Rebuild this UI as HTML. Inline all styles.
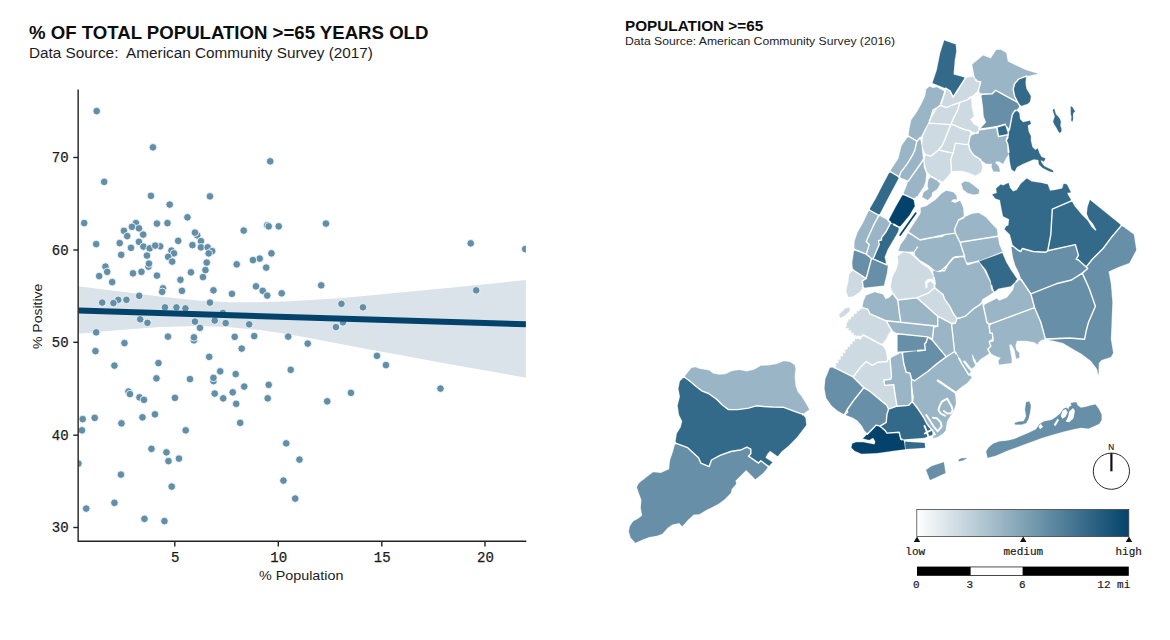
<!DOCTYPE html>
<html><head><meta charset="utf-8"><title>Population >=65</title>
<style>
html,body{margin:0;padding:0;background:#fff;}
body{width:1170px;height:640px;position:relative;overflow:hidden;font-family:"Liberation Sans",sans-serif;color:#111;}
.abs{position:absolute;white-space:nowrap;line-height:1;}
.tk{position:absolute;font-family:"Liberation Mono",monospace;font-size:14px;line-height:16px;color:#1a1a1a;white-space:nowrap;-webkit-text-stroke:0.25px #1a1a1a;}
svg{position:absolute;left:0;top:0;}
#t1{left:29.3px;top:24px;font-size:18.2px;font-weight:bold;color:#0d0d0d;transform-origin:0 0;transform:scaleX(1.023);}
#s1{left:29.3px;top:46.05px;font-size:14px;color:#1c1c1c;transform-origin:0 0;transform:scaleX(1.094);}
#t2{left:624.9px;top:18.75px;font-size:14px;font-weight:bold;color:#0d0d0d;transform-origin:0 0;transform:scaleX(1.092);}
#s2{left:624.9px;top:36.16px;font-size:10.8px;color:#1c1c1c;transform-origin:0 0;transform:scaleX(1.128);}
#xl{left:259.2px;top:569.4px;font-size:13.6px;color:#1c1c1c;transform-origin:0 0;transform:scaleX(1.054);}
#yl{left:31px;top:349.2px;font-size:13.6px;color:#1c1c1c;transform-origin:0 0;transform:rotate(-90deg) scaleX(1.03);}
.lg{position:absolute;font-family:"Liberation Mono",monospace;font-size:11px;line-height:12px;color:#1a1a1a;white-space:nowrap;-webkit-text-stroke:0.2px #1a1a1a;}
</style></head><body>
<svg width="1170" height="640" viewBox="0 0 1170 640">
<defs><clipPath id="pc"><rect x="78.3" y="88" width="447.6" height="453.3"/></clipPath><linearGradient id="lg" x1="0" x2="1" y1="0" y2="0"><stop offset="0" stop-color="#ffffff"/><stop offset="0.5" stop-color="#81a3b6"/><stop offset="1" stop-color="#03436b"/></linearGradient></defs>
<g clip-path="url(#pc)">
<polygon fill="#dae3e9" points="78.3,286.3 120.0,291.5 160.0,296.5 200.0,300.8 230.0,302.3 260.0,302.2 290.0,301.3 340.0,298.3 400.0,292.5 440.0,288.8 480.0,284.7 526.0,280.0 526.0,377.7 480.0,369.5 440.0,362.5 400.0,355.0 360.0,347.7 320.0,340.0 290.0,334.5 260.0,330.0 230.0,327.2 200.0,326.0 160.0,327.0 120.0,330.0 78.3,333.8"/>
<circle cx="96.70" cy="111.10" r="3.8" fill="#628fa8" stroke="#fff" stroke-width="0.8"/>
<circle cx="152.95" cy="147.35" r="3.8" fill="#628fa8" stroke="#fff" stroke-width="0.8"/>
<circle cx="270.20" cy="161.35" r="3.8" fill="#628fa8" stroke="#fff" stroke-width="0.8"/>
<circle cx="104.20" cy="181.85" r="3.8" fill="#628fa8" stroke="#fff" stroke-width="0.8"/>
<circle cx="150.95" cy="195.85" r="3.8" fill="#628fa8" stroke="#fff" stroke-width="0.8"/>
<circle cx="209.95" cy="196.35" r="3.8" fill="#628fa8" stroke="#fff" stroke-width="0.8"/>
<circle cx="169.70" cy="204.60" r="3.8" fill="#628fa8" stroke="#fff" stroke-width="0.8"/>
<circle cx="187.45" cy="217.35" r="3.8" fill="#628fa8" stroke="#fff" stroke-width="0.8"/>
<circle cx="84.20" cy="223.10" r="3.8" fill="#628fa8" stroke="#fff" stroke-width="0.8"/>
<circle cx="135.95" cy="223.10" r="3.8" fill="#628fa8" stroke="#fff" stroke-width="0.8"/>
<circle cx="156.95" cy="223.60" r="3.8" fill="#628fa8" stroke="#fff" stroke-width="0.8"/>
<circle cx="167.45" cy="223.10" r="3.8" fill="#628fa8" stroke="#fff" stroke-width="0.8"/>
<circle cx="131.95" cy="226.85" r="3.8" fill="#628fa8" stroke="#fff" stroke-width="0.8"/>
<circle cx="138.95" cy="228.35" r="3.8" fill="#628fa8" stroke="#fff" stroke-width="0.8"/>
<circle cx="267.20" cy="225.35" r="3.8" fill="#628fa8" stroke="#fff" stroke-width="0.8"/>
<circle cx="268.70" cy="226.35" r="3.8" fill="#628fa8" stroke="#fff" stroke-width="0.8"/>
<circle cx="278.70" cy="226.35" r="3.8" fill="#628fa8" stroke="#fff" stroke-width="0.8"/>
<circle cx="243.70" cy="230.60" r="3.8" fill="#628fa8" stroke="#fff" stroke-width="0.8"/>
<circle cx="123.95" cy="230.85" r="3.8" fill="#628fa8" stroke="#fff" stroke-width="0.8"/>
<circle cx="197.20" cy="235.35" r="3.8" fill="#628fa8" stroke="#fff" stroke-width="0.8"/>
<circle cx="194.95" cy="232.60" r="3.8" fill="#628fa8" stroke="#fff" stroke-width="0.8"/>
<circle cx="127.20" cy="236.10" r="3.8" fill="#628fa8" stroke="#fff" stroke-width="0.8"/>
<circle cx="143.20" cy="234.60" r="3.8" fill="#628fa8" stroke="#fff" stroke-width="0.8"/>
<circle cx="178.20" cy="240.85" r="3.8" fill="#628fa8" stroke="#fff" stroke-width="0.8"/>
<circle cx="200.95" cy="241.10" r="3.8" fill="#628fa8" stroke="#fff" stroke-width="0.8"/>
<circle cx="138.95" cy="241.85" r="3.8" fill="#628fa8" stroke="#fff" stroke-width="0.8"/>
<circle cx="119.70" cy="243.10" r="3.8" fill="#628fa8" stroke="#fff" stroke-width="0.8"/>
<circle cx="96.20" cy="244.10" r="3.8" fill="#628fa8" stroke="#fff" stroke-width="0.8"/>
<circle cx="192.45" cy="245.10" r="3.8" fill="#628fa8" stroke="#fff" stroke-width="0.8"/>
<circle cx="160.20" cy="246.35" r="3.8" fill="#628fa8" stroke="#fff" stroke-width="0.8"/>
<circle cx="130.95" cy="247.85" r="3.8" fill="#628fa8" stroke="#fff" stroke-width="0.8"/>
<circle cx="143.45" cy="246.60" r="3.8" fill="#628fa8" stroke="#fff" stroke-width="0.8"/>
<circle cx="149.70" cy="248.35" r="3.8" fill="#628fa8" stroke="#fff" stroke-width="0.8"/>
<circle cx="155.20" cy="245.60" r="3.8" fill="#628fa8" stroke="#fff" stroke-width="0.8"/>
<circle cx="200.95" cy="247.35" r="3.8" fill="#628fa8" stroke="#fff" stroke-width="0.8"/>
<circle cx="207.70" cy="247.35" r="3.8" fill="#628fa8" stroke="#fff" stroke-width="0.8"/>
<circle cx="212.20" cy="251.10" r="3.8" fill="#628fa8" stroke="#fff" stroke-width="0.8"/>
<circle cx="171.45" cy="250.60" r="3.8" fill="#628fa8" stroke="#fff" stroke-width="0.8"/>
<circle cx="173.95" cy="253.35" r="3.8" fill="#628fa8" stroke="#fff" stroke-width="0.8"/>
<circle cx="208.70" cy="253.35" r="3.8" fill="#628fa8" stroke="#fff" stroke-width="0.8"/>
<circle cx="121.20" cy="254.85" r="3.8" fill="#628fa8" stroke="#fff" stroke-width="0.8"/>
<circle cx="146.95" cy="255.60" r="3.8" fill="#628fa8" stroke="#fff" stroke-width="0.8"/>
<circle cx="168.20" cy="256.85" r="3.8" fill="#628fa8" stroke="#fff" stroke-width="0.8"/>
<circle cx="271.45" cy="253.35" r="3.8" fill="#628fa8" stroke="#fff" stroke-width="0.8"/>
<circle cx="259.70" cy="258.60" r="3.8" fill="#628fa8" stroke="#fff" stroke-width="0.8"/>
<circle cx="252.95" cy="260.10" r="3.8" fill="#628fa8" stroke="#fff" stroke-width="0.8"/>
<circle cx="172.20" cy="261.60" r="3.8" fill="#628fa8" stroke="#fff" stroke-width="0.8"/>
<circle cx="206.70" cy="262.60" r="3.8" fill="#628fa8" stroke="#fff" stroke-width="0.8"/>
<circle cx="148.45" cy="266.60" r="3.8" fill="#628fa8" stroke="#fff" stroke-width="0.8"/>
<circle cx="148.95" cy="263.60" r="3.8" fill="#628fa8" stroke="#fff" stroke-width="0.8"/>
<circle cx="236.70" cy="264.35" r="3.8" fill="#628fa8" stroke="#fff" stroke-width="0.8"/>
<circle cx="266.20" cy="267.60" r="3.8" fill="#628fa8" stroke="#fff" stroke-width="0.8"/>
<circle cx="105.45" cy="266.60" r="3.8" fill="#628fa8" stroke="#fff" stroke-width="0.8"/>
<circle cx="205.45" cy="270.10" r="3.8" fill="#628fa8" stroke="#fff" stroke-width="0.8"/>
<circle cx="107.20" cy="271.85" r="3.8" fill="#628fa8" stroke="#fff" stroke-width="0.8"/>
<circle cx="132.95" cy="273.35" r="3.8" fill="#628fa8" stroke="#fff" stroke-width="0.8"/>
<circle cx="141.45" cy="271.85" r="3.8" fill="#628fa8" stroke="#fff" stroke-width="0.8"/>
<circle cx="190.95" cy="272.35" r="3.8" fill="#628fa8" stroke="#fff" stroke-width="0.8"/>
<circle cx="99.20" cy="276.10" r="3.8" fill="#628fa8" stroke="#fff" stroke-width="0.8"/>
<circle cx="156.95" cy="275.60" r="3.8" fill="#628fa8" stroke="#fff" stroke-width="0.8"/>
<circle cx="202.95" cy="277.10" r="3.8" fill="#628fa8" stroke="#fff" stroke-width="0.8"/>
<circle cx="180.45" cy="279.85" r="3.8" fill="#628fa8" stroke="#fff" stroke-width="0.8"/>
<circle cx="112.20" cy="282.10" r="3.8" fill="#628fa8" stroke="#fff" stroke-width="0.8"/>
<circle cx="255.95" cy="286.35" r="3.8" fill="#628fa8" stroke="#fff" stroke-width="0.8"/>
<circle cx="162.95" cy="288.35" r="3.8" fill="#628fa8" stroke="#fff" stroke-width="0.8"/>
<circle cx="162.20" cy="291.85" r="3.8" fill="#628fa8" stroke="#fff" stroke-width="0.8"/>
<circle cx="181.95" cy="290.85" r="3.8" fill="#628fa8" stroke="#fff" stroke-width="0.8"/>
<circle cx="213.45" cy="290.35" r="3.8" fill="#628fa8" stroke="#fff" stroke-width="0.8"/>
<circle cx="262.70" cy="290.85" r="3.8" fill="#628fa8" stroke="#fff" stroke-width="0.8"/>
<circle cx="231.95" cy="293.85" r="3.8" fill="#628fa8" stroke="#fff" stroke-width="0.8"/>
<circle cx="281.70" cy="293.35" r="3.8" fill="#628fa8" stroke="#fff" stroke-width="0.8"/>
<circle cx="267.20" cy="295.60" r="3.8" fill="#628fa8" stroke="#fff" stroke-width="0.8"/>
<circle cx="139.20" cy="295.85" r="3.8" fill="#628fa8" stroke="#fff" stroke-width="0.8"/>
<circle cx="118.20" cy="299.85" r="3.8" fill="#628fa8" stroke="#fff" stroke-width="0.8"/>
<circle cx="126.45" cy="299.85" r="3.8" fill="#628fa8" stroke="#fff" stroke-width="0.8"/>
<circle cx="102.20" cy="302.60" r="3.8" fill="#628fa8" stroke="#fff" stroke-width="0.8"/>
<circle cx="113.45" cy="303.10" r="3.8" fill="#628fa8" stroke="#fff" stroke-width="0.8"/>
<circle cx="209.95" cy="302.60" r="3.8" fill="#628fa8" stroke="#fff" stroke-width="0.8"/>
<circle cx="164.95" cy="307.35" r="3.8" fill="#628fa8" stroke="#fff" stroke-width="0.8"/>
<circle cx="176.45" cy="307.35" r="3.8" fill="#628fa8" stroke="#fff" stroke-width="0.8"/>
<circle cx="185.45" cy="308.35" r="3.8" fill="#628fa8" stroke="#fff" stroke-width="0.8"/>
<circle cx="222.95" cy="312.85" r="3.8" fill="#628fa8" stroke="#fff" stroke-width="0.8"/>
<circle cx="140.20" cy="319.35" r="3.8" fill="#628fa8" stroke="#fff" stroke-width="0.8"/>
<circle cx="147.45" cy="322.85" r="3.8" fill="#628fa8" stroke="#fff" stroke-width="0.8"/>
<circle cx="194.95" cy="321.60" r="3.8" fill="#628fa8" stroke="#fff" stroke-width="0.8"/>
<circle cx="214.70" cy="320.60" r="3.8" fill="#628fa8" stroke="#fff" stroke-width="0.8"/>
<circle cx="225.70" cy="323.10" r="3.8" fill="#628fa8" stroke="#fff" stroke-width="0.8"/>
<circle cx="249.20" cy="324.35" r="3.8" fill="#628fa8" stroke="#fff" stroke-width="0.8"/>
<circle cx="199.95" cy="327.85" r="3.8" fill="#628fa8" stroke="#fff" stroke-width="0.8"/>
<circle cx="96.20" cy="332.35" r="3.8" fill="#628fa8" stroke="#fff" stroke-width="0.8"/>
<circle cx="167.95" cy="336.60" r="3.8" fill="#628fa8" stroke="#fff" stroke-width="0.8"/>
<circle cx="193.95" cy="340.35" r="3.8" fill="#628fa8" stroke="#fff" stroke-width="0.8"/>
<circle cx="193.95" cy="337.35" r="3.8" fill="#628fa8" stroke="#fff" stroke-width="0.8"/>
<circle cx="234.70" cy="336.85" r="3.8" fill="#628fa8" stroke="#fff" stroke-width="0.8"/>
<circle cx="254.20" cy="336.10" r="3.8" fill="#628fa8" stroke="#fff" stroke-width="0.8"/>
<circle cx="288.20" cy="336.60" r="3.8" fill="#628fa8" stroke="#fff" stroke-width="0.8"/>
<circle cx="124.45" cy="343.10" r="3.8" fill="#628fa8" stroke="#fff" stroke-width="0.8"/>
<circle cx="241.70" cy="348.60" r="3.8" fill="#628fa8" stroke="#fff" stroke-width="0.8"/>
<circle cx="95.45" cy="351.10" r="3.8" fill="#628fa8" stroke="#fff" stroke-width="0.8"/>
<circle cx="209.20" cy="356.85" r="3.8" fill="#628fa8" stroke="#fff" stroke-width="0.8"/>
<circle cx="158.45" cy="363.10" r="3.8" fill="#628fa8" stroke="#fff" stroke-width="0.8"/>
<circle cx="114.45" cy="365.60" r="3.8" fill="#628fa8" stroke="#fff" stroke-width="0.8"/>
<circle cx="220.20" cy="371.35" r="3.8" fill="#628fa8" stroke="#fff" stroke-width="0.8"/>
<circle cx="290.70" cy="369.85" r="3.8" fill="#628fa8" stroke="#fff" stroke-width="0.8"/>
<circle cx="235.70" cy="374.10" r="3.8" fill="#628fa8" stroke="#fff" stroke-width="0.8"/>
<circle cx="156.45" cy="378.35" r="3.8" fill="#628fa8" stroke="#fff" stroke-width="0.8"/>
<circle cx="189.95" cy="379.10" r="3.8" fill="#628fa8" stroke="#fff" stroke-width="0.8"/>
<circle cx="213.45" cy="381.10" r="3.8" fill="#628fa8" stroke="#fff" stroke-width="0.8"/>
<circle cx="213.45" cy="377.85" r="3.8" fill="#628fa8" stroke="#fff" stroke-width="0.8"/>
<circle cx="244.20" cy="386.60" r="3.8" fill="#628fa8" stroke="#fff" stroke-width="0.8"/>
<circle cx="268.70" cy="384.85" r="3.8" fill="#628fa8" stroke="#fff" stroke-width="0.8"/>
<circle cx="128.45" cy="391.60" r="3.8" fill="#628fa8" stroke="#fff" stroke-width="0.8"/>
<circle cx="129.95" cy="394.10" r="3.8" fill="#628fa8" stroke="#fff" stroke-width="0.8"/>
<circle cx="232.70" cy="392.35" r="3.8" fill="#628fa8" stroke="#fff" stroke-width="0.8"/>
<circle cx="214.70" cy="393.60" r="3.8" fill="#628fa8" stroke="#fff" stroke-width="0.8"/>
<circle cx="139.45" cy="397.35" r="3.8" fill="#628fa8" stroke="#fff" stroke-width="0.8"/>
<circle cx="143.95" cy="399.85" r="3.8" fill="#628fa8" stroke="#fff" stroke-width="0.8"/>
<circle cx="174.95" cy="397.85" r="3.8" fill="#628fa8" stroke="#fff" stroke-width="0.8"/>
<circle cx="223.20" cy="398.35" r="3.8" fill="#628fa8" stroke="#fff" stroke-width="0.8"/>
<circle cx="267.70" cy="398.35" r="3.8" fill="#628fa8" stroke="#fff" stroke-width="0.8"/>
<circle cx="236.20" cy="403.85" r="3.8" fill="#628fa8" stroke="#fff" stroke-width="0.8"/>
<circle cx="154.95" cy="414.35" r="3.8" fill="#628fa8" stroke="#fff" stroke-width="0.8"/>
<circle cx="142.45" cy="417.35" r="3.8" fill="#628fa8" stroke="#fff" stroke-width="0.8"/>
<circle cx="82.70" cy="419.10" r="3.8" fill="#628fa8" stroke="#fff" stroke-width="0.8"/>
<circle cx="94.70" cy="417.85" r="3.8" fill="#628fa8" stroke="#fff" stroke-width="0.8"/>
<circle cx="121.45" cy="423.35" r="3.8" fill="#628fa8" stroke="#fff" stroke-width="0.8"/>
<circle cx="240.20" cy="422.85" r="3.8" fill="#628fa8" stroke="#fff" stroke-width="0.8"/>
<circle cx="81.95" cy="430.35" r="3.8" fill="#628fa8" stroke="#fff" stroke-width="0.8"/>
<circle cx="185.70" cy="430.35" r="3.8" fill="#628fa8" stroke="#fff" stroke-width="0.8"/>
<circle cx="286.20" cy="443.35" r="3.8" fill="#628fa8" stroke="#fff" stroke-width="0.8"/>
<circle cx="151.45" cy="448.85" r="3.8" fill="#628fa8" stroke="#fff" stroke-width="0.8"/>
<circle cx="166.45" cy="452.35" r="3.8" fill="#628fa8" stroke="#fff" stroke-width="0.8"/>
<circle cx="168.45" cy="461.10" r="3.8" fill="#628fa8" stroke="#fff" stroke-width="0.8"/>
<circle cx="178.95" cy="458.60" r="3.8" fill="#628fa8" stroke="#fff" stroke-width="0.8"/>
<circle cx="78.45" cy="463.60" r="3.8" fill="#628fa8" stroke="#fff" stroke-width="0.8"/>
<circle cx="299.45" cy="459.60" r="3.8" fill="#628fa8" stroke="#fff" stroke-width="0.8"/>
<circle cx="120.95" cy="474.60" r="3.8" fill="#628fa8" stroke="#fff" stroke-width="0.8"/>
<circle cx="283.45" cy="480.60" r="3.8" fill="#628fa8" stroke="#fff" stroke-width="0.8"/>
<circle cx="171.70" cy="486.60" r="3.8" fill="#628fa8" stroke="#fff" stroke-width="0.8"/>
<circle cx="295.20" cy="498.60" r="3.8" fill="#628fa8" stroke="#fff" stroke-width="0.8"/>
<circle cx="114.45" cy="502.85" r="3.8" fill="#628fa8" stroke="#fff" stroke-width="0.8"/>
<circle cx="86.20" cy="508.60" r="3.8" fill="#628fa8" stroke="#fff" stroke-width="0.8"/>
<circle cx="144.45" cy="518.85" r="3.8" fill="#628fa8" stroke="#fff" stroke-width="0.8"/>
<circle cx="164.45" cy="521.10" r="3.8" fill="#628fa8" stroke="#fff" stroke-width="0.8"/>
<circle cx="325.95" cy="223.60" r="3.8" fill="#628fa8" stroke="#fff" stroke-width="0.8"/>
<circle cx="470.70" cy="243.35" r="3.8" fill="#628fa8" stroke="#fff" stroke-width="0.8"/>
<circle cx="525.20" cy="249.10" r="3.8" fill="#628fa8" stroke="#fff" stroke-width="0.8"/>
<circle cx="321.20" cy="285.35" r="3.8" fill="#628fa8" stroke="#fff" stroke-width="0.8"/>
<circle cx="476.20" cy="290.35" r="3.8" fill="#628fa8" stroke="#fff" stroke-width="0.8"/>
<circle cx="341.45" cy="303.85" r="3.8" fill="#628fa8" stroke="#fff" stroke-width="0.8"/>
<circle cx="362.95" cy="307.35" r="3.8" fill="#628fa8" stroke="#fff" stroke-width="0.8"/>
<circle cx="342.95" cy="322.35" r="3.8" fill="#628fa8" stroke="#fff" stroke-width="0.8"/>
<circle cx="335.95" cy="327.10" r="3.8" fill="#628fa8" stroke="#fff" stroke-width="0.8"/>
<circle cx="307.70" cy="343.60" r="3.8" fill="#628fa8" stroke="#fff" stroke-width="0.8"/>
<circle cx="376.95" cy="355.85" r="3.8" fill="#628fa8" stroke="#fff" stroke-width="0.8"/>
<circle cx="385.95" cy="365.10" r="3.8" fill="#628fa8" stroke="#fff" stroke-width="0.8"/>
<circle cx="440.45" cy="388.60" r="3.8" fill="#628fa8" stroke="#fff" stroke-width="0.8"/>
<circle cx="350.95" cy="392.85" r="3.8" fill="#628fa8" stroke="#fff" stroke-width="0.8"/>
<circle cx="327.20" cy="401.35" r="3.8" fill="#628fa8" stroke="#fff" stroke-width="0.8"/>
<line x1="78.3" y1="310.5" x2="526" y2="324.3" stroke="#03436b" stroke-width="6"/>
</g>
<g stroke="#222" stroke-width="1.4" fill="none">
<path d="M78.15,89.4 V541.3 H526.3"/>
<path d="M73.3,157.5 H78.3"/>
<path d="M73.3,250.0 H78.3"/>
<path d="M73.3,342.3 H78.3"/>
<path d="M73.3,435.2 H78.3"/>
<path d="M73.3,527.5 H78.3"/>
<path d="M174.8,541.3 V546.5"/>
<path d="M278.3,541.3 V546.5"/>
<path d="M381.8,541.3 V546.5"/>
<path d="M485.0,541.3 V546.5"/>
</g>
<g id="map" stroke-linejoin="round">
<path d="M944.3,40.5 L955.7,44.6 L956.2,51.5 L954.6,60.8 L953.5,74.6 L965.5,77.8 L953.1,97.1 L950.0,90.8 L946.2,88.5 L932.6,83.1 L936.9,70.0 L940.3,53.1 Z" fill="#336989" stroke="#336989" stroke-width="0.25"/>
<path d="M972.3,64.6 L983.1,55.4 L990.8,58.5 L996.2,50.0 L1000.8,49.7 L1006.2,53.1 L1007.7,61.5 L1026.2,70.3 L1037.7,73.8 L1026.2,76.2 L1018.5,79.2 L1014.6,83.8 L1013.1,89.2 L1014.6,96.2 L1017.7,102.3 L995.7,90.3 L992.3,93.8 L981.4,94.3 L978.3,90.5 L979.8,85.8 L980.6,81.8 L976.8,81.1 L974.5,76.2 Z" fill="#9ab5c5" stroke="#9ab5c5" stroke-width="0.25"/>
<path d="M1026.2,76.2 L1025.4,82.3 L1026.2,88.5 L1030.8,96.2 L1030.0,101.5 L1027.7,103.8 L1020.0,106.2 L1017.7,102.3 L1014.6,96.2 L1013.1,89.2 L1014.6,83.8 L1018.5,79.2 Z" fill="#336989" stroke="#336989" stroke-width="0.25"/>
<path d="M981.4,94.3 L992.3,93.8 L995.7,90.3 L1017.7,102.3 L1020.0,106.2 L1016.2,110.0 L1014.6,110.8 L1012.3,114.6 L1011.1,120.8 L1009.5,129.2 L1005.4,124.2 L996.9,126.6 L980.0,129.2 L986.2,122.3 L983.8,116.2 L983.1,106.9 Z" fill="#678fa7" stroke="#678fa7" stroke-width="0.25"/>
<path d="M996.9,127.2 L1004.9,124.6 L1008.2,134.6 L998.5,136.5 Z" fill="#336989" stroke="#336989" stroke-width="0.25"/>
<path d="M970.0,136.2 L977.7,133.1 L980.0,129.7 L996.6,127.2 L998.5,136.5 L1008.2,134.6 L1006.2,140.8 L1007.7,143.8 L1008.5,154.6 L1006.2,157.7 L1003.1,163.8 L999.2,161.5 L996.2,161.2 L995.1,163.1 L998.5,165.7 L1000.0,171.5 L993.5,171.5 L991.7,167.2 L992.0,163.8 L986.2,163.8 L980.0,159.2 L973.8,155.4 L970.0,150.0 L968.5,143.8 Z" fill="#9ab5c5" stroke="#9ab5c5" stroke-width="0.25"/>
<path d="M1016.9,110.8 L1019.2,113.1 L1020.0,119.2 L1023.1,122.3 L1030.0,120.8 L1030.8,123.8 L1027.7,125.4 L1028.5,131.5 L1030.8,136.2 L1030.8,140.8 L1032.3,146.9 L1035.4,150.0 L1037.7,148.5 L1039.2,153.1 L1041.5,156.9 L1045.4,158.5 L1043.8,161.5 L1040.8,160.0 L1041.2,162.3 L1044.2,166.2 L1052.6,170.2 L1053.4,172.2 L1049.4,171.2 L1042.5,167.7 L1038.9,164.2 L1038.5,160.0 L1033.8,159.2 L1023.1,163.8 L1016.9,166.9 L1014.6,171.5 L1011.5,169.2 L1010.0,162.3 L1009.2,154.6 L1007.7,143.8 L1006.2,140.8 L1008.5,136.2 L1009.5,129.2 L1011.1,120.8 L1012.3,114.6 L1014.6,110.8 Z" fill="#336989" stroke="#336989" stroke-width="0.25"/>
<path d="M965.5,77.8 L972.8,76.8 L974.5,78.8 L976.8,81.1 L980.6,81.8 L979.8,85.8 L978.3,90.5 L972.8,95.2 L967.2,99.8 L960.0,102.3 L951.5,105.4 L946.2,107.7 L940.8,105.4 L943.1,97.7 L946.2,88.5 L950.0,90.8 L953.1,97.1 Z" fill="#cddae2" stroke="#cddae2" stroke-width="0.25"/>
<path d="M940.8,105.4 L946.2,107.7 L951.5,105.4 L960.0,102.3 L957.7,110.0 L953.1,119.2 L950.8,124.6 L929.2,123.1 L933.1,110.0 Z" fill="#cddae2" stroke="#cddae2" stroke-width="0.25"/>
<path d="M960.0,102.3 L967.2,99.8 L971.1,97.4 L971.5,106.9 L973.8,116.2 L970.0,119.2 L973.8,124.6 L978.5,126.9 L977.7,133.1 L970.0,130.8 L966.2,130.0 L961.5,128.5 L953.1,124.6 L950.8,124.6 L953.1,119.2 L957.7,110.0 Z" fill="#cddae2" stroke="#cddae2" stroke-width="0.25"/>
<path d="M929.2,123.1 L950.8,124.6 L946.2,136.2 L942.3,145.4 L938.5,150.0 L930.8,156.2 L925.4,154.6 L922.3,145.4 L923.1,136.2 Z" fill="#cddae2" stroke="#cddae2" stroke-width="0.25"/>
<path d="M950.8,124.6 L953.1,124.6 L961.5,128.5 L966.2,130.0 L970.0,130.8 L970.0,136.2 L968.5,143.8 L966.2,144.6 L955.4,143.1 L953.1,153.1 L938.5,150.0 L942.3,145.4 L946.2,136.2 Z" fill="#cddae2" stroke="#cddae2" stroke-width="0.25"/>
<path d="M925.4,154.6 L930.8,156.2 L938.5,150.0 L953.1,153.1 L950.8,159.2 L951.5,171.5 L947.7,176.2 L943.1,181.5 L933.1,177.7 L926.9,171.5 L924.6,162.3 Z" fill="#cddae2" stroke="#cddae2" stroke-width="0.25"/>
<path d="M953.1,153.1 L955.4,143.1 L966.2,144.6 L968.5,143.8 L970.0,150.0 L973.8,155.4 L980.0,159.2 L982.3,166.9 L980.8,172.3 L975.4,175.4 L967.7,172.3 L961.5,170.8 L955.4,170.8 L951.5,171.5 L950.8,159.2 Z" fill="#cddae2" stroke="#cddae2" stroke-width="0.25"/>
<path d="M961.5,183.8 L964.6,181.5 L969.2,182.3 L975.4,186.9 L979.2,190.0 L978.5,193.8 L973.8,194.6 L967.7,193.1 L963.1,189.2 Z" fill="#9ab5c5" stroke="#9ab5c5" stroke-width="0.25"/>
<path d="M1052.8,110.1 L1054.2,108.7 L1054.9,111.2 L1055.7,114.3 L1058.1,116.4 L1059.9,119.2 L1060.8,121.7 L1060.2,125.2 L1061.3,128.7 L1061.3,131.2 L1059.9,132.9 L1058.5,131.5 L1056.7,128.0 L1054.9,125.2 L1053.2,121.7 L1053.9,119.2 L1054.9,116.8 L1053.9,113.6 Z" fill="#336989" stroke="#336989" stroke-width="0.25"/>
<path d="M1070.8,106.6 L1072.2,106.9 L1073.9,109.8 L1075.0,111.3 L1073.2,112.9 L1072.9,116.1 L1073.0,118.9 L1072.2,121.7 L1071.3,120.3 L1071.6,116.8 L1070.9,114.0 Z" fill="#336989" stroke="#336989" stroke-width="0.25"/>
<path d="M926.3,89.2 L929.6,86.6 L932.8,87.9 L937.2,87.3 L940.5,89.2 L944.8,91.6 L943.0,97.5 L940.2,104.8 L935.5,109.5 L930.5,118.5 L927.0,125.0 L923.5,131.5 L920.5,137.5 L916.9,141.2 L908.5,136.2 L909.2,130.8 L911.3,120.0 L916.6,112.8 L921.2,104.5 L925.3,96.0 Z" fill="#9ab5c5" stroke="#9ab5c5" stroke-width="0.25"/>
<path d="M908.5,136.2 L916.9,141.2 L914.6,150.8 L912.3,155.4 L907.7,163.1 L900.8,172.3 L899.2,176.9 L890.0,171.5 L898.5,158.5 L901.5,146.2 L904.6,141.5 Z" fill="#9ab5c5" stroke="#9ab5c5" stroke-width="0.25"/>
<path d="M916.9,141.2 L920.0,137.7 L921.5,146.2 L923.1,160.0 L916.2,170.0 L912.3,175.4 L908.5,180.8 L899.2,176.9 L900.8,172.3 L907.7,163.1 L912.3,155.4 L914.6,150.8 Z" fill="#9ab5c5" stroke="#9ab5c5" stroke-width="0.25"/>
<path d="M923.1,160.0 L923.8,167.7 L926.2,173.8 L925.4,181.5 L923.8,186.2 L917.7,195.4 L913.5,198.8 L903.1,194.2 L905.4,189.2 L908.5,180.8 L912.3,175.4 L916.2,170.0 Z" fill="#9ab5c5" stroke="#9ab5c5" stroke-width="0.25"/>
<path d="M930.8,176.9 L933.8,177.7 L940.0,183.8 L936.9,189.2 L932.3,192.3 L931.5,196.2 L927.7,200.0 L922.3,196.9 L923.8,192.3 L928.5,189.2 L927.7,184.6 L928.5,180.0 Z" fill="#9ab5c5" stroke="#9ab5c5" stroke-width="0.25"/>
<path d="M890.0,171.5 L899.2,176.9 L887.7,198.5 L878.9,215.4 L869.2,210.0 L876.2,198.0 L883.1,184.6 Z" fill="#336989" stroke="#336989" stroke-width="0.25"/>
<path d="M903.1,194.2 L913.5,198.8 L914.6,206.2 L909.2,215.4 L899.2,227.4 L888.5,220.8 L896.2,206.2 Z" fill="#03436b" stroke="#03436b" stroke-width="0.25"/>
<path d="M869.2,210.0 L878.9,215.4 L873.1,226.2 L866.2,241.5 L869.2,244.6 L866.2,254.2 L854.3,249.5 L854.6,241.5 L857.7,232.3 L863.1,223.1 Z" fill="#9ab5c5" stroke="#9ab5c5" stroke-width="0.25"/>
<path d="M878.9,215.4 L888.5,220.8 L890.5,223.1 L886.2,231.5 L881.5,237.7 L881.5,240.0 L878.5,240.8 L879.2,244.6 L876.2,251.5 L873.1,258.8 L871.5,258.5 L866.2,254.2 L869.2,244.6 L866.2,241.5 L873.1,226.2 Z" fill="#9ab5c5" stroke="#9ab5c5" stroke-width="0.25"/>
<path d="M890.5,223.1 L899.2,227.4 L897.7,232.3 L892.3,241.5 L887.7,249.2 L884.6,256.9 L886.2,264.6 L873.1,258.8 L876.2,251.5 L879.2,244.6 L878.5,240.8 L881.5,240.0 L881.5,237.7 L886.2,231.5 Z" fill="#336989" stroke="#336989" stroke-width="0.25"/>
<path d="M854.3,249.5 L866.2,254.2 L871.5,258.5 L866.2,278.5 L853.1,270.0 L852.3,263.1 Z" fill="#678fa7" stroke="#678fa7" stroke-width="0.25"/>
<path d="M871.5,258.5 L873.1,258.8 L886.2,264.6 L887.7,265.4 L886.9,273.1 L883.8,285.4 L863.1,287.7 L862.3,280.8 L866.2,278.5 Z" fill="#678fa7" stroke="#678fa7" stroke-width="0.25"/>
<path d="M853.1,270.0 L866.2,278.5 L862.3,280.8 L863.1,287.7 L859.2,292.3 L853.1,296.2 L848.5,296.9 L846.2,291.5 L848.5,280.8 L849.2,274.6 Z" fill="#cddae2" stroke="#cddae2" stroke-width="0.25"/>
<path d="M839.2,314.6 L845.4,308.5 L849.2,307.7 L850.0,310.8 L843.8,316.2 L840.0,317.7 Z" fill="#cddae2" stroke="#cddae2" stroke-width="0.25"/>
<path d="M920.8,207.7 L926.2,206.2 L935.4,200.0 L941.5,193.8 L946.2,190.8 L953.1,192.3 L956.2,195.4 L956.9,199.2 L953.1,199.2 L950.8,201.5 L955.4,203.1 L960.0,200.8 L963.1,207.7 L963.8,216.9 L958.5,220.0 L954.6,229.2 L955.4,233.1 L944.6,234.6 L942.3,236.2 L933.8,237.2 L923.1,239.2 L920.0,240.0 L908.5,232.3 L912.3,226.2 L916.9,219.2 L920.8,213.1 Z" fill="#9ab5c5" stroke="#9ab5c5" stroke-width="0.25"/>
<path d="M908.5,232.3 L920.0,240.0 L933.8,237.2 L944.6,234.6 L955.4,233.1 L960.0,242.3 L964.6,256.2 L954.6,256.9 L947.7,264.6 L944.6,270.8 L935.4,270.8 L929.2,265.4 L920.0,260.0 L915.4,255.4 L914.6,252.3 L918.5,246.9 L916.9,246.2 L913.8,251.5 L907.7,251.5 L898.5,250.8 L900.8,244.6 L905.4,238.5 Z" fill="#9ab5c5" stroke="#9ab5c5" stroke-width="0.25"/>
<path d="M954.6,229.2 L958.5,220.0 L972.3,213.8 L978.5,213.1 L985.4,216.9 L992.3,224.6 L996.9,229.2 L997.7,236.2 L960.0,242.3 L955.4,233.1 Z" fill="#9ab5c5" stroke="#9ab5c5" stroke-width="0.25"/>
<path d="M960.0,242.3 L997.7,236.2 L999.2,244.6 L1002.3,251.5 L979.2,260.8 L967.7,264.6 L964.6,256.2 Z" fill="#9ab5c5" stroke="#9ab5c5" stroke-width="0.25"/>
<path d="M979.2,261.5 L1002.3,253.1 L1006.2,262.3 L1010.8,270.0 L1017.7,280.0 L1013.1,283.8 L1010.8,286.2 L998.5,288.5 L994.6,291.5 L992.3,289.2 L990.8,280.8 L986.2,270.0 Z" fill="#336989" stroke="#336989" stroke-width="0.25"/>
<path d="M933.1,270.8 L939.2,272.3 L946.9,265.4 L953.1,257.7 L963.1,256.2 L966.2,263.8 L978.5,261.5 L983.8,270.0 L990.0,282.3 L993.1,292.3 L990.0,294.6 L982.3,299.2 L980.0,304.6 L973.1,309.2 L965.4,316.2 L960.8,317.7 L956.9,318.5 L953.1,313.1 L950.0,306.9 L944.6,299.2 L943.1,294.6 L934.6,287.7 L936.2,283.1 L934.6,280.0 Z" fill="#9ab5c5" stroke="#9ab5c5" stroke-width="0.25"/>
<path d="M992.3,194.6 L996.9,193.1 L996.2,188.5 L1000.8,184.6 L1003.1,185.4 L1008.5,183.1 L1010.0,187.7 L1013.1,191.5 L1016.9,190.0 L1020.8,183.8 L1026.9,178.5 L1031.5,181.5 L1041.5,183.1 L1047.7,184.6 L1050.0,190.8 L1055.4,190.0 L1062.3,188.5 L1063.8,183.8 L1066.9,184.6 L1070.8,192.3 L1066.9,193.1 L1071.5,200.8 L1052.3,209.2 L1050.8,234.6 L1047.7,250.8 L1045.4,252.3 L1033.1,251.5 L1022.3,248.5 L1020.8,251.5 L1017.7,250.0 L1013.1,246.2 L1010.0,234.6 L1004.6,229.2 L1006.2,226.2 L1008.5,225.4 L1009.2,219.2 L1003.1,216.2 L1001.5,208.5 L1000.0,200.0 L995.4,198.5 Z" fill="#336989" stroke="#336989" stroke-width="0.25"/>
<path d="M1071.5,200.8 L1074.6,206.2 L1081.5,214.6 L1087.7,220.8 L1091.5,226.9 L1095.4,230.8 L1096.5,230.0 L1093.1,223.8 L1089.2,219.2 L1086.9,213.8 L1087.7,206.9 L1090.0,200.0 L1121.5,225.4 L1112.3,236.2 L1103.1,248.5 L1092.3,259.2 L1086.2,266.9 L1078.5,260.0 L1076.2,259.2 L1078.5,255.4 L1075.4,244.6 L1047.7,250.8 L1050.8,234.6 L1052.3,209.2 Z" fill="#336989" stroke="#336989" stroke-width="0.25"/>
<path d="M1121.5,225.4 L1124.6,227.7 L1133.8,234.6 L1136.2,250.0 L1129.2,263.1 L1118.5,266.9 L1108.5,271.5 L1110.8,283.8 L1112.3,302.3 L1111.5,322.3 L1110.8,339.2 L1113.1,353.1 L1110.8,356.9 L1101.5,360.0 L1098.8,363.1 L1098.3,374.6 L1097.2,369.2 L1096.2,367.7 L1090.8,360.8 L1081.5,353.8 L1072.3,348.5 L1063.1,343.1 L1053.8,340.8 L1045.4,339.2 L1069.2,338.0 L1084.6,339.2 L1086.2,330.8 L1088.5,322.3 L1095.4,306.2 L1089.2,288.5 L1082.3,273.1 L1087.7,268.5 L1086.2,266.9 L1092.3,259.2 L1103.1,248.5 L1112.3,236.2 Z" fill="#678fa7" stroke="#678fa7" stroke-width="0.25"/>
<path d="M1011.5,246.9 L1013.1,246.2 L1017.7,250.0 L1020.8,251.5 L1022.3,248.5 L1033.1,251.5 L1045.4,252.3 L1047.7,250.8 L1075.4,244.6 L1078.5,255.4 L1076.2,259.2 L1078.5,260.0 L1086.2,266.9 L1087.7,268.5 L1082.3,273.1 L1071.5,280.0 L1056.2,283.8 L1030.8,293.8 L1029.2,291.5 L1021.5,280.0 L1019.2,273.1 L1015.4,265.4 L1013.1,257.7 Z" fill="#678fa7" stroke="#678fa7" stroke-width="0.25"/>
<path d="M1030.8,293.8 L1056.2,283.8 L1071.5,280.0 L1082.3,273.1 L1089.2,288.5 L1095.4,306.2 L1088.5,322.3 L1086.2,330.8 L1084.6,339.2 L1069.2,338.0 L1045.4,338.9 L1040.8,322.3 L1034.6,307.7 L1032.3,299.2 Z" fill="#678fa7" stroke="#678fa7" stroke-width="0.25"/>
<path d="M983.1,305.4 L996.9,298.5 L999.2,300.8 L1006.9,297.7 L1013.1,290.0 L1014.6,284.6 L1017.7,280.0 L1021.5,280.0 L1029.2,291.5 L1030.8,293.8 L1032.3,299.2 L1034.6,307.7 L990.8,323.8 L986.9,322.3 L984.6,311.5 Z" fill="#9ab5c5" stroke="#9ab5c5" stroke-width="0.25"/>
<path d="M990.8,323.8 L1034.6,307.7 L1040.8,322.3 L1045.4,338.9 L1041.5,340.0 L1038.5,342.3 L1037.7,344.6 L1034.6,342.3 L1026.2,340.8 L1016.9,340.8 L1015.4,345.4 L1016.2,350.0 L1019.2,353.1 L1019.2,357.7 L1016.2,358.5 L1014.6,350.0 L1011.5,344.6 L1009.2,344.6 L1010.0,350.0 L1011.5,358.5 L1011.5,363.1 L999.2,364.6 L998.5,360.8 L1000.8,357.7 L996.2,356.2 L990.0,353.1 L987.7,349.2 L990.8,346.2 L989.2,341.5 L993.1,339.2 L992.3,333.1 L990.0,333.1 L989.2,326.9 Z" fill="#9ab5c5" stroke="#9ab5c5" stroke-width="0.25"/>
<path d="M1014.6,423.1 L1018.5,421.8 L1023.8,421.2 L1026.2,416.2 L1025.1,409.2 L1026.2,402.3 L1029.2,401.5 L1030.8,405.4 L1030.0,412.3 L1028.5,418.5 L1026.2,423.1 L1021.5,424.6 L1015.4,424.6 Z" fill="#678fa7" stroke="#678fa7" stroke-width="0.25"/>
<path d="M986.2,451.5 L988.5,447.7 L993.1,443.8 L999.2,441.5 L1006.9,440.8 L1013.8,439.2 L1020.8,436.2 L1028.5,433.1 L1036.2,429.2 L1039.2,424.6 L1043.8,421.5 L1051.5,420.0 L1056.2,416.9 L1060.8,413.1 L1063.8,408.5 L1066.9,407.7 L1068.5,410.0 L1069.2,406.9 L1071.5,405.4 L1070.8,403.1 L1076.2,402.3 L1077.7,405.4 L1080.8,407.7 L1085.4,406.9 L1090.8,405.4 L1095.4,404.6 L1098.5,408.5 L1101.5,414.6 L1101.5,420.0 L1099.2,423.8 L1093.8,426.2 L1088.5,428.5 L1080.8,427.7 L1073.1,429.2 L1063.8,431.5 L1053.1,434.6 L1042.3,437.7 L1030.0,442.3 L1019.2,446.2 L1006.9,450.8 L996.2,455.4 L987.7,457.7 Z" fill="#678fa7" stroke="#678fa7" stroke-width="0.25"/>
<path d="M958.5,460.0 L961.5,458.2 L966.9,458.2 L963.1,460.3 L958.9,461.2 Z" fill="#678fa7" stroke="#678fa7" stroke-width="0.25"/>
<path d="M926.2,470.0 L931.5,466.2 L943.8,462.3 L945.4,473.1 L930.0,480.0 Z" fill="#678fa7" stroke="#678fa7" stroke-width="0.25"/>
<path d="M897.7,256.2 L903.8,252.3 L910.0,253.8 L913.8,256.9 L917.7,260.8 L922.3,264.6 L928.5,268.5 L931.5,273.1 L934.6,280.0 L931.5,278.6 L927.8,278.9 L924.8,282.0 L925.7,288.5 L927.5,287.8 L927.5,283.2 L930.6,281.5 L933.4,284.6 L934.6,287.7 L928.5,293.1 L916.9,297.7 L897.7,300.0 L893.1,293.1 L890.8,286.9 L892.3,277.7 L896.9,268.5 L898.5,262.3 Z" fill="#cddae2" stroke="#cddae2" stroke-width="0.25"/>
<path d="M866.2,295.4 L874.6,292.3 L883.1,294.6 L885.4,299.2 L889.2,297.7 L893.1,293.8 L897.7,300.0 L899.2,311.5 L900.8,322.3 L886.2,320.8 L880.8,318.5 L870.0,313.8 L867.7,309.2 L862.3,307.7 L863.8,300.8 Z" fill="#9ab5c5" stroke="#9ab5c5" stroke-width="0.25"/>
<path d="M897.7,300.0 L916.9,297.7 L937.7,316.2 L937.7,326.2 L900.8,322.3 L899.2,311.5 Z" fill="#9ab5c5" stroke="#9ab5c5" stroke-width="0.25"/>
<path d="M916.9,297.7 L928.5,293.1 L934.6,287.7 L943.1,294.6 L944.6,299.2 L950.0,306.9 L953.1,313.1 L956.9,318.5 L955.4,323.1 L950.8,323.1 L937.7,316.2 Z" fill="#cddae2" stroke="#cddae2" stroke-width="0.25"/>
<path d="M965.4,316.2 L973.1,309.2 L980.0,304.6 L983.1,303.8 L984.6,311.5 L986.9,322.3 L989.2,326.9 L990.0,333.1 L992.3,333.1 L993.1,340.8 L989.2,341.5 L990.8,346.2 L987.7,349.2 L990.0,353.1 L980.0,359.2 L982.3,356.9 L976.9,363.1 L973.1,355.4 L971.5,353.8 L973.1,360.8 L975.4,365.4 L971.5,368.5 L965.4,360.8 L962.3,360.8 L966.9,366.9 L970.8,371.5 L968.5,374.6 L961.5,363.1 L957.7,354.6 L954.6,351.5 L951.5,323.8 L955.4,323.1 L956.9,318.5 L960.8,317.7 Z" fill="#9ab5c5" stroke="#9ab5c5" stroke-width="0.25"/>
<path d="M937.7,316.2 L950.8,323.1 L951.5,323.8 L954.6,351.5 L946.2,356.9 L932.3,340.0 L933.8,326.9 L937.7,326.2 Z" fill="#9ab5c5" stroke="#9ab5c5" stroke-width="0.25"/>
<path d="M886.2,320.8 L900.8,322.3 L937.7,326.2 L933.8,326.9 L932.3,339.2 L927.7,336.9 L897.7,333.8 L891.5,330.0 Z" fill="#9ab5c5" stroke="#9ab5c5" stroke-width="0.25"/>
<path d="M862.3,307.7 L867.7,309.2 L870.0,313.8 L880.8,318.5 L886.2,320.8 L891.5,330.0 L888.5,333.8 L885.4,340.0 L881.5,344.6 L863.1,334.6 L860.0,339.2 L859.2,338.5 L857.8,337.1 L857.0,338.0 L855.9,336.9 L856.7,336.1 L855.3,334.7 L854.5,335.6 L853.4,334.5 L854.2,333.7 L852.8,332.3 L852.0,333.2 L850.8,332.1 L851.7,331.3 L850.3,329.9 L849.4,330.8 L848.3,329.7 L849.1,328.9 L847.8,327.5 L846.9,328.4 L845.8,327.3 L846.6,326.5 L846.9,323.1 L847.2,322.6 L848.8,321.1 L848.1,320.4 L849.3,319.1 L850.0,319.8 L851.6,318.3 L850.9,317.6 L852.1,316.4 L852.8,317.1 L854.4,315.6 L853.7,314.8 L855.0,313.6 L855.7,314.3 L857.2,312.8 L856.5,312.1 L857.8,310.8 L858.5,311.5 Z" fill="#cddae2" stroke="#cddae2" stroke-width="0.25"/>
<path d="M897.7,333.8 L927.7,336.9 L926.2,342.3 L924.6,343.8 L925.4,350.0 L897.7,351.5 Z" fill="#678fa7" stroke="#678fa7" stroke-width="0.25"/>
<path d="M927.7,336.9 L932.3,340.0 L946.2,356.9 L937.7,363.1 L927.7,371.5 L914.6,380.8 L911.5,379.2 L910.0,373.1 L906.2,372.3 L903.8,363.8 L902.3,353.1 L925.4,350.0 L924.6,343.8 L926.2,342.3 Z" fill="#678fa7" stroke="#678fa7" stroke-width="0.25"/>
<path d="M946.2,356.9 L954.6,351.5 L961.5,363.1 L968.5,374.6 L971.8,377.2 L967.4,382.7 L961.9,386.5 L956.4,390.9 L954.8,393.1 L955.3,396.9 L955.9,403.5 L954.2,408.9 L952.1,413.3 L949.9,416.6 L947.1,421.0 L946.0,426.4 L945.5,430.8 L942.2,434.1 L937.8,436.8 L933.5,437.9 L933.1,431.5 L926.9,423.8 L923.8,417.7 L917.7,408.5 L912.3,401.5 L911.5,385.4 L911.5,379.2 L914.6,380.8 L927.7,371.5 L937.7,363.1 Z" fill="#9ab5c5" stroke="#9ab5c5" stroke-width="0.25"/>
<path d="M890.0,358.5 L900.8,353.1 L902.3,353.1 L903.8,363.8 L906.2,372.3 L910.0,373.1 L911.5,379.2 L911.5,385.4 L913.1,397.7 L912.3,401.5 L908.5,405.4 L896.9,406.2 L894.6,391.5 L893.8,384.6 L884.6,385.4 L883.8,380.0 L890.8,379.2 L891.5,376.2 Z" fill="#9ab5c5" stroke="#9ab5c5" stroke-width="0.25"/>
<path d="M866.2,361.5 L872.3,365.4 L877.7,362.3 L886.9,361.5 L890.0,358.5 L891.5,376.2 L890.8,379.2 L883.8,380.0 L884.6,385.4 L893.8,384.6 L894.6,391.5 L896.9,406.2 L888.5,409.2 L886.9,405.4 L869.2,390.8 L863.8,387.7 L853.1,376.9 L860.8,366.9 Z" fill="#cddae2" stroke="#cddae2" stroke-width="0.25"/>
<path d="M863.8,335.4 L881.5,344.6 L885.4,350.0 L886.9,357.7 L886.9,361.5 L877.7,362.3 L872.3,365.4 L866.2,361.5 L860.8,366.9 L853.1,376.9 L834.6,367.7 L835.4,366.9 L836.7,365.1 L835.6,364.3 L836.6,362.8 L837.7,363.5 L839.0,361.7 L837.9,360.9 L838.9,359.4 L840.0,360.2 L841.3,358.3 L840.2,357.6 L841.2,356.0 L842.3,356.8 L843.6,354.9 L842.5,354.2 L843.5,352.7 L844.6,353.4 L845.9,351.5 L844.8,350.8 L845.8,349.3 L846.9,350.0 L846.9,350.0 L848.2,348.6 L847.3,347.7 L848.4,346.5 L849.3,347.4 L850.6,345.9 L849.7,345.1 L850.8,343.9 L851.7,344.8 L853.0,343.3 L852.1,342.5 L853.2,341.3 L854.1,342.2 L855.4,340.7 L854.5,339.8 L855.6,338.7 L856.5,339.5 L857.8,338.1 L856.9,337.2 L858.0,336.0 L858.9,336.9 Z" fill="#cddae2" stroke="#cddae2" stroke-width="0.25"/>
<path d="M830.0,367.7 L834.6,367.7 L853.1,376.9 L863.8,387.7 L854.6,399.2 L846.9,410.0 L847.7,412.3 L844.6,414.6 L837.7,410.8 L831.5,405.4 L826.2,397.7 L824.6,388.5 L825.4,379.2 L828.5,371.5 Z" fill="#678fa7" stroke="#678fa7" stroke-width="0.25"/>
<path d="M863.8,387.7 L869.2,390.8 L886.9,405.4 L888.5,409.2 L886.9,414.6 L886.2,422.3 L880.0,426.2 L876.2,425.1 L871.5,430.0 L867.7,433.8 L864.6,430.8 L862.3,426.2 L857.7,420.8 L853.1,417.7 L849.2,416.2 L844.6,414.6 L846.9,410.0 L854.6,399.2 Z" fill="#678fa7" stroke="#678fa7" stroke-width="0.25"/>
<path d="M888.5,409.2 L896.9,406.2 L908.5,405.4 L912.3,401.5 L917.7,408.5 L923.8,417.7 L926.9,423.8 L933.1,431.5 L935.4,434.6 L930.0,435.4 L924.6,437.7 L904.6,439.2 L900.8,439.2 L899.2,432.3 L886.9,433.1 L885.4,430.8 L880.0,426.2 L886.2,422.3 L886.9,414.6 Z" fill="#336989" stroke="#336989" stroke-width="0.25"/>
<path d="M905.1,441.8 L924.6,443.1 L925.1,447.7 L905.7,448.9 Z" fill="#336989" stroke="#336989" stroke-width="0.25"/>
<path d="M876.2,425.1 L880.0,426.2 L885.4,430.8 L886.9,433.1 L899.2,432.3 L900.8,439.2 L903.8,440.8 L905.1,449.2 L893.1,450.8 L877.7,453.1 L861.5,453.8 L854.6,450.8 L851.5,447.7 L852.3,443.8 L856.2,442.3 L863.1,442.3 L870.8,443.8 L874.6,444.6 L875.4,441.5 L873.1,437.7 L869.2,440.0 L863.1,438.5 L867.7,433.8 L871.5,430.0 Z" fill="#03436b" stroke="#03436b" stroke-width="0.25"/>
<path d="M684.2,377.0 L691.5,368.1 L695.4,367.3 L699.2,368.8 L703.8,369.6 L709.2,370.4 L713.1,373.5 L719.2,374.7 L725.4,374.2 L731.5,371.2 L739.2,370.1 L746.9,371.6 L754.6,369.6 L760.8,365.8 L768.5,365.5 L776.2,364.2 L783.8,361.2 L790.0,361.9 L794.6,365.0 L795.4,368.8 L794.6,376.5 L795.4,385.8 L797.7,391.9 L801.5,396.5 L805.4,402.7 L809.2,409.6 L802.3,414.2 L793.8,411.2 L783.8,407.3 L773.1,407.0 L763.8,406.5 L756.2,405.8 L748.5,408.1 L737.7,409.6 L728.5,409.6 L722.3,405.0 L716.2,398.8 L708.5,393.5 L702.3,391.2 L696.2,386.5 L690.0,381.2 L684.2,377.0 Z" fill="#9ab5c5" stroke="#9ab5c5" stroke-width="0.25"/>
<path d="M684.2,377.0 L690.0,381.2 L696.2,386.5 L702.3,391.2 L708.5,393.5 L716.2,398.8 L722.3,405.0 L728.5,409.6 L737.7,409.6 L748.5,408.1 L756.2,405.8 L763.8,406.5 L773.1,407.0 L783.8,407.3 L793.8,411.2 L802.3,414.2 L805.4,418.1 L806.2,425.0 L801.5,431.2 L796.2,438.1 L788.5,445.8 L781.5,451.5 L777.7,456.2 L770.0,450.8 L766.9,454.6 L765.4,457.7 L772.3,462.3 L768.5,466.6 L760.8,460.8 L758.5,463.1 L748.5,456.2 L750.8,453.8 L750.8,449.2 L746.9,447.2 L741.5,449.7 L730.8,451.5 L720.0,455.4 L711.5,460.0 L709.2,466.6 L700.8,463.1 L698.5,457.7 L687.7,447.7 L675.4,443.1 L676.9,433.5 L680.8,427.3 L682.3,421.2 L679.2,415.0 L677.7,405.8 L680.0,396.5 L678.5,388.8 L680.0,381.2 Z" fill="#336989" stroke="#336989" stroke-width="0.25"/>
<path d="M675.4,443.1 L687.7,447.7 L698.5,457.7 L700.8,463.1 L709.2,466.6 L711.5,460.0 L720.0,455.4 L730.8,451.5 L741.5,449.7 L746.9,447.2 L750.8,449.2 L750.8,453.8 L748.5,456.2 L758.5,463.1 L760.8,460.8 L768.5,466.6 L763.1,473.1 L755.4,479.2 L746.2,470.0 L735.4,480.8 L736.2,483.8 L731.5,489.2 L730.8,493.1 L724.6,499.2 L718.5,503.8 L712.3,506.9 L706.2,510.0 L699.2,514.2 L693.8,514.6 L687.7,520.0 L682.3,526.2 L679.2,523.1 L672.3,524.6 L667.7,527.7 L662.3,533.8 L656.9,535.7 L649.2,536.9 L641.5,540.0 L635.4,542.8 L630.8,537.7 L628.9,531.5 L630.0,526.2 L633.1,521.5 L638.5,518.5 L642.3,515.4 L640.8,507.7 L641.5,500.0 L639.2,493.8 L636.9,486.9 L639.2,483.1 L646.9,476.9 L653.1,472.3 L660.8,473.1 L669.2,469.2 L670.0,460.8 L673.1,451.5 Z" fill="#678fa7" stroke="#678fa7" stroke-width="0.25"/>
<path d="M1062.6,410.8 L1065.7,408.9 L1067.7,412.3 L1065.4,416.9 L1062.3,418.8 L1060.8,415.7 Z" fill="#fff" stroke="none"/>
<path d="M1069.2,411.5 L1073.1,408.0 L1074.9,410.8 L1073.4,418.5 L1069.2,422.3 L1065.7,421.5 L1068.0,416.9 Z" fill="#fff" stroke="none"/>
<path d="M1053.8,424.6 L1057.7,418.5 L1058.9,420.3 L1055.4,426.2 Z" fill="#fff" stroke="none"/>
<path d="M1038.5,426.2 L1040.8,423.8 L1043.1,426.9 L1040.0,429.2 Z" fill="#fff" stroke="none"/>
<path d="M964.9,77.7 L965.5,77.8 L953.1,97.1 L950.0,90.8 L946.2,88.5 L945.6,88.2 M978.7,90.9 L978.3,90.5 L979.8,85.8 L980.6,81.8 L976.8,81.1 L976.0,79.5 M1026.7,76.0 L1026.2,76.2 L1018.5,79.2 L1014.6,83.8 L1013.1,89.2 L1014.6,96.2 L1017.7,102.3 L995.7,90.3 L992.3,93.8 L981.4,94.3 L981.0,93.8 M1020.6,106.0 L1020.0,106.2 L1017.7,102.3 L1014.6,96.2 L1013.1,89.2 L1014.6,83.8 L1018.5,79.2 L1026.2,76.2 L1026.1,76.8 M996.7,126.6 L980.0,129.2 L980.1,129.1 M981.5,94.9 L981.4,94.3 L992.3,93.8 L995.7,90.3 L1017.7,102.3 L1020.0,106.2 L1019.6,106.6 M1005.3,124.2 L996.9,126.6 L996.8,126.6 M1015.8,110.2 L1014.6,110.8 L1012.3,114.6 L1011.1,120.8 L1009.5,129.2 L1009.0,128.6 M1008.0,134.0 L1008.2,134.6 L998.5,136.5 L996.9,127.2 L1004.9,124.6 L1005.0,124.9 M980.8,159.8 L980.0,159.2 L973.8,155.4 L970.0,150.0 L968.5,143.8 L970.0,136.2 L970.6,135.9 M976.8,133.4 L977.7,133.1 L978.4,132.0 M979.9,129.8 L980.0,129.7 L996.6,127.2 L998.5,136.5 L1008.2,134.6 L1007.9,135.3 M1007.4,136.9 L1006.2,140.8 L1007.7,143.8 L1008.3,152.3 M1008.9,152.3 L1007.7,143.8 L1006.2,140.8 L1008.0,137.2 M1009.4,129.8 L1009.5,129.2 L1011.1,120.8 L1012.3,114.6 L1014.6,110.8 L1016.0,110.8 M970.9,96.8 L967.2,99.8 L960.0,102.3 L951.5,105.4 L946.2,107.7 L940.8,105.4 L940.9,104.8 M941.3,103.6 L943.1,97.7 L945.2,91.2 M946.0,89.0 L946.2,88.5 L950.0,90.8 L953.1,97.1 L965.5,77.8 L966.1,77.8 M975.5,79.8 L976.8,81.1 L980.6,81.8 L979.8,85.8 L978.3,90.5 L977.9,90.9 M940.3,105.7 L940.8,105.4 L946.2,107.7 L951.5,105.4 L960.0,102.3 L957.7,110.0 L953.1,119.2 L950.8,124.6 L929.2,123.1 L929.4,122.5 M929.8,121.0 L933.1,110.0 L940.0,105.8 M970.6,130.9 L970.0,130.8 L966.2,130.0 L961.5,128.5 L953.1,124.6 L950.8,124.6 L953.1,119.2 L957.7,110.0 L960.0,102.3 L967.2,99.8 L971.1,97.4 L971.1,97.4 M977.9,131.8 L977.7,133.1 L976.8,132.8 M929.0,123.6 L929.2,123.1 L950.8,124.6 L946.2,136.2 L942.3,145.4 L938.5,150.0 L930.8,156.2 L925.4,154.6 L925.2,154.0 M970.0,135.5 L970.0,136.2 L968.5,143.8 L966.2,144.6 L955.4,143.1 L953.1,153.1 L938.5,150.0 L942.3,145.4 L946.2,136.2 L950.8,124.6 L953.1,124.6 L961.5,128.5 L966.2,130.0 L970.0,130.8 L970.0,131.4 M925.3,155.2 L925.4,154.6 L930.8,156.2 L938.5,150.0 L953.1,153.1 L950.8,159.2 L951.5,171.5 L951.2,172.0 M935.7,178.7 L933.1,177.7 L932.0,176.6 M952.1,171.4 L951.5,171.5 L950.8,159.2 L953.1,153.1 L955.4,143.1 L966.2,144.6 L968.5,143.8 L970.0,150.0 L973.8,155.4 L980.0,159.2 L980.3,160.2 M920.5,137.4 L920.5,137.5 L916.9,141.2 L908.5,136.2 L908.5,135.6 M939.6,105.4 L935.5,109.5 L930.5,118.5 L929.3,120.7 M944.5,91.4 L944.8,91.6 L943.0,97.5 L940.7,103.4 M908.1,136.6 L908.5,136.2 L916.9,141.2 L914.6,150.8 L912.3,155.4 L907.7,163.1 L900.8,172.3 L899.2,176.9 L890.0,171.5 L890.3,171.0 M899.8,177.2 L899.2,176.9 L900.8,172.3 L907.7,163.1 L912.3,155.4 L914.6,150.8 L916.9,141.2 L920.0,137.7 L920.2,138.7 M923.0,159.4 L923.1,160.0 L916.2,170.0 L912.3,175.4 L908.5,180.8 L907.9,180.5 M914.0,198.4 L913.5,198.8 L903.1,194.2 L903.3,193.6 M908.3,181.3 L908.5,180.8 L912.3,175.4 L916.2,170.0 L923.1,160.0 L923.2,160.9 M931.7,177.2 L933.8,177.7 L935.4,179.2 M879.2,214.9 L878.9,215.4 L869.2,210.0 L869.5,209.5 M889.7,172.1 L890.0,171.5 L899.2,176.9 L898.9,177.5 M890.2,221.8 L888.5,220.8 L888.7,220.2 M899.6,226.9 L899.2,227.4 L893.8,224.0 M902.8,194.7 L903.1,194.2 L913.5,198.8 L913.6,199.4 M869.0,210.5 L869.2,210.0 L878.9,215.4 L873.1,226.2 L866.2,241.5 L869.2,244.6 L866.2,254.2 L854.3,249.5 L854.3,248.9 M890.1,222.6 L890.5,223.1 L886.2,231.5 L881.5,237.7 L881.5,240.0 L878.5,240.8 L879.2,244.6 L876.2,251.5 L873.1,258.8 L871.5,258.5 L866.2,254.2 L869.2,244.6 L866.2,241.5 L873.1,226.2 L878.9,215.4 L879.4,215.7 M887.9,220.5 L888.5,220.8 L889.8,222.3 M886.0,263.9 L886.2,264.6 L873.1,258.8 L876.2,251.5 L879.2,244.6 L878.5,240.8 L881.5,240.0 L881.5,237.7 L886.2,231.5 L890.5,223.1 L891.0,223.3 M893.5,224.6 L899.2,227.4 L899.1,228.0 M854.2,250.1 L854.3,249.5 L866.2,254.2 L871.5,258.5 L866.2,278.5 L853.1,270.0 L853.0,269.4 M863.7,287.6 L863.1,287.7 L862.3,280.8 L866.2,278.5 L871.5,258.5 L873.1,258.8 L886.2,264.6 L886.7,264.9 M852.7,270.5 L853.1,270.0 L866.2,278.5 L862.3,280.8 L863.1,287.7 L862.7,288.2 M963.6,217.0 L958.5,220.0 L954.6,229.2 L955.4,233.1 L944.6,234.6 L942.3,236.2 L933.8,237.2 L923.1,239.2 L920.0,240.0 L908.5,232.3 L908.8,231.8 M908.2,232.8 L908.5,232.3 L920.0,240.0 L933.8,237.2 L944.6,234.6 L955.4,233.1 L960.0,242.3 L964.6,256.2 L964.0,256.2 M963.7,256.2 L954.6,256.9 L947.7,264.6 L944.6,270.8 L940.0,270.8 M997.6,235.6 L997.7,236.2 L960.0,242.3 L955.4,233.1 L954.6,229.2 L958.5,220.0 L963.9,217.6 M964.8,256.7 L964.6,256.2 L960.0,242.3 L997.7,236.2 L997.8,236.7 M978.6,261.0 L967.7,264.6 L967.1,263.1 M993.0,289.9 L992.3,289.2 L991.7,285.7 M1017.4,279.5 L1017.7,280.0 L1016.1,281.4 M934.9,280.5 L934.6,280.0 L934.2,277.6 M980.3,303.9 L980.0,304.6 L973.1,309.2 L965.4,316.2 L960.8,317.7 L956.9,318.5 L953.1,313.1 L950.0,306.9 L944.6,299.2 L943.1,294.6 L934.6,287.7 L934.9,286.8 M940.3,271.4 L946.9,265.4 L953.1,257.7 L963.1,256.2 L963.4,256.9 M966.7,263.7 L978.5,261.5 L978.5,261.6 M991.1,285.8 L992.4,290.2 M1071.2,200.3 L1071.5,200.8 L1052.3,209.2 L1050.8,234.6 L1047.7,250.8 L1045.4,252.3 L1033.1,251.5 L1022.3,248.5 L1020.8,251.5 L1017.7,250.0 L1013.1,246.2 L1012.9,245.6 M1121.1,225.0 L1121.5,225.4 L1112.3,236.2 L1103.1,248.5 L1092.3,259.2 L1086.2,266.9 L1078.5,260.0 L1076.2,259.2 L1078.5,255.4 L1075.4,244.6 L1047.7,250.8 L1050.8,234.6 L1052.3,209.2 L1071.5,200.8 L1071.8,201.3 M1046.7,339.5 L1045.4,339.2 L1069.2,338.0 L1084.6,339.2 L1086.2,330.8 L1088.5,322.3 L1095.4,306.2 L1089.2,288.5 L1082.3,273.1 L1087.7,268.5 L1086.2,266.9 L1092.3,259.2 L1103.1,248.5 L1112.3,236.2 L1121.5,225.4 L1122.0,225.7 M1012.5,246.4 L1013.1,246.2 L1017.7,250.0 L1020.8,251.5 L1022.3,248.5 L1033.1,251.5 L1045.4,252.3 L1047.7,250.8 L1075.4,244.6 L1078.5,255.4 L1076.2,259.2 L1078.5,260.0 L1086.2,266.9 L1087.7,268.5 L1082.3,273.1 L1071.5,280.0 L1056.2,283.8 L1030.8,293.8 L1029.2,291.5 L1021.5,280.0 L1021.3,279.4 M1030.8,293.8 L1056.2,283.8 L1071.5,280.0 L1082.3,273.1 L1089.2,288.5 L1095.4,306.2 L1088.5,322.3 L1086.2,330.8 L1084.6,339.2 L1069.2,338.0 L1045.4,338.9 L1040.8,322.3 L1034.6,307.7 L1032.3,299.2 L1030.8,293.8 M987.8,322.6 L986.9,322.3 L984.6,311.5 L983.1,305.4 L983.9,305.0 M1020.9,280.0 L1021.5,280.0 L1029.2,291.5 L1030.8,293.8 L1032.3,299.2 L1034.6,307.7 L990.8,323.8 L990.2,323.6 M1016.5,281.8 L1017.7,280.0 L1018.3,280.0 M990.5,353.3 L990.0,353.1 L987.7,349.2 L990.8,346.2 L989.2,341.5 L993.1,339.2 L992.3,333.1 L990.0,333.1 L989.2,326.9 L989.6,326.3 M990.5,324.4 L990.8,323.8 L1034.6,307.7 L1040.8,322.3 L1045.4,338.9 L1044.8,339.1 M934.3,286.8 L934.6,287.7 L928.5,293.1 L916.9,297.7 L897.7,300.0 L893.2,293.3 M933.6,277.8 L934.6,280.0 L934.0,279.7 M893.0,294.0 L893.1,293.8 L897.7,300.0 L899.2,311.5 L900.8,322.3 L886.2,320.8 L880.8,318.5 L870.0,313.8 L867.7,309.2 L862.3,307.7 L862.4,307.1 M897.7,300.0 L916.9,297.7 L937.7,316.2 L937.7,326.2 L900.8,322.3 L899.2,311.5 L897.7,300.0 M951.6,323.1 L950.8,323.1 L937.7,316.2 L916.9,297.7 L928.5,293.1 L934.6,287.7 L943.1,294.6 L944.6,299.2 L950.0,306.9 L953.1,313.1 L956.9,318.5 L955.4,323.1 L952.3,323.1 M952.1,323.7 L951.5,323.8 L954.6,351.5 L956.4,353.3 M980.7,304.4 L980.0,304.6 L973.1,309.2 L965.4,316.2 L960.8,317.7 L956.9,318.5 L955.4,323.1 L952.4,323.7 M959.4,358.3 L961.5,363.1 L968.5,374.6 L968.9,374.1 M987.3,323.1 L986.9,322.3 L984.6,311.5 L983.2,304.6 M989.5,353.4 L990.0,353.1 L987.7,349.2 L990.8,346.2 L989.2,341.5 L993.1,340.8 L992.3,333.1 L990.0,333.1 L989.2,326.9 L988.9,326.3 M937.7,316.2 L950.8,323.1 L951.5,323.8 L954.6,351.5 L946.2,356.9 L932.3,340.0 L933.8,326.9 L937.7,326.2 L937.7,316.2 M892.0,330.3 L891.5,330.0 L886.2,320.8 L900.8,322.3 L937.7,326.2 L933.8,326.9 L932.3,339.2 L927.7,336.9 L897.7,333.8 L897.2,333.5 M862.8,335.1 L860.0,339.2 L859.2,338.5 L857.8,337.1 L857.0,338.0 L856.3,337.3 M861.9,308.1 L862.3,307.7 L867.7,309.2 L870.0,313.8 L880.8,318.5 L886.2,320.8 L891.5,330.0 L891.2,330.5 M881.9,344.2 L881.5,344.6 L863.5,334.9 M897.7,334.4 L897.7,333.8 L927.7,336.9 L926.2,342.3 L924.6,343.8 L925.4,350.0 L917.6,350.4 M931.7,339.6 L932.3,340.0 L946.2,356.9 L937.7,363.1 L927.7,371.5 L914.6,380.8 L911.5,379.2 L910.0,373.1 L906.2,372.3 L903.8,363.8 L902.3,353.1 L902.9,353.0 M917.7,351.0 L925.4,350.0 L924.6,343.8 L926.2,342.3 L927.7,336.9 L931.7,339.6 M933.3,435.5 L933.1,431.5 L926.9,423.8 L923.8,417.7 L917.7,408.5 L912.3,401.5 L911.5,385.4 L911.5,379.2 L914.6,380.8 L927.7,371.5 L937.7,363.1 L946.2,356.9 L954.6,351.5 L955.9,353.7 M958.8,358.5 L961.5,363.1 L968.5,374.6 L968.9,375.0 M901.7,353.1 L902.3,353.1 L903.8,363.8 L906.2,372.3 L910.0,373.1 L911.5,379.2 L911.5,385.4 L913.1,397.7 L912.3,401.5 L908.5,405.4 L896.9,406.2 L894.6,391.5 L893.8,384.6 L884.6,385.4 L883.8,380.0 L890.8,379.2 L891.5,376.2 L890.0,358.5 L890.5,358.2 M889.4,359.0 L890.0,358.5 L891.5,376.2 L890.8,379.2 L883.8,380.0 L884.6,385.4 L893.8,384.6 L894.6,391.5 L896.9,406.2 L888.5,409.2 L886.9,405.4 L869.2,390.8 L863.8,387.7 L853.1,376.9 L860.8,366.9 L866.2,361.5 L872.3,365.4 L877.7,362.3 L886.9,361.5 L887.5,360.9 M886.9,360.7 L886.9,361.5 L877.7,362.3 L872.3,365.4 L866.2,361.5 L860.8,366.9 L853.1,376.9 L834.6,367.7 L835.1,367.2 M857.8,338.1 L856.9,337.2 L858.0,336.0 L858.9,336.9 L863.1,335.6 M863.5,335.5 L863.8,335.4 L881.5,344.6 L881.9,345.1 M834.0,367.7 L834.6,367.7 L853.1,376.9 L863.8,387.7 L854.6,399.2 L846.9,410.0 L847.7,412.3 L844.6,414.6 L844.1,414.3 M845.3,414.8 L844.6,414.6 L846.9,410.0 L854.6,399.2 L863.8,387.7 L869.2,390.8 L886.9,405.4 L888.5,409.2 L886.9,414.6 L886.2,422.3 L880.0,426.2 L876.2,425.1 L871.5,430.0 L867.7,433.8 L867.3,433.4 M902.1,439.2 L900.8,439.2 L899.2,432.3 L886.9,433.1 L885.4,430.8 L880.0,426.2 L886.2,422.3 L886.9,414.6 L888.5,409.2 L896.9,406.2 L908.5,405.4 L912.3,401.5 L917.7,408.5 L923.8,417.7 L926.9,423.8 L933.1,431.5 L935.4,434.6 L932.7,435.0 M867.3,434.3 L867.7,433.8 L871.5,430.0 L876.2,425.1 L880.0,426.2 L885.4,430.8 L886.9,433.1 L899.2,432.3 L900.8,439.2 L902.0,439.8 M802.8,413.9 L802.3,414.2 L793.8,411.2 L783.8,407.3 L773.1,407.0 L763.8,406.5 L756.2,405.8 L748.5,408.1 L737.7,409.6 L728.5,409.6 L722.3,405.0 L716.2,398.8 L708.5,393.5 L702.3,391.2 L696.2,386.5 L690.0,381.2 L684.2,377.0 L684.5,376.5 M768.9,466.2 L768.5,466.6 L760.8,460.8 L758.5,463.1 L748.5,456.2 L750.8,453.8 L750.8,449.2 L746.9,447.2 L741.5,449.7 L730.8,451.5 L720.0,455.4 L711.5,460.0 L709.2,466.6 L700.8,463.1 L698.5,457.7 L687.7,447.7 L675.4,443.1 L675.5,442.5 M683.7,377.4 L684.2,377.0 L690.0,381.2 L696.2,386.5 L702.3,391.2 L708.5,393.5 L716.2,398.8 L722.3,405.0 L728.5,409.6 L737.7,409.6 L748.5,408.1 L756.2,405.8 L763.8,406.5 L773.1,407.0 L783.8,407.3 L793.8,411.2 L802.3,414.2 L802.7,414.7 M675.2,443.7 L675.4,443.1 L687.7,447.7 L698.5,457.7 L700.8,463.1 L709.2,466.6 L711.5,460.0 L720.0,455.4 L730.8,451.5 L741.5,449.7 L746.9,447.2 L750.8,449.2 L750.8,453.8 L748.5,456.2 L758.5,463.1 L760.8,460.8 L768.5,466.6 L768.1,467.1" fill="none" stroke="#fff" stroke-width="1.4" stroke-linecap="round" stroke-linejoin="round"/>
<path d="M915.8,213.1 L900.2,235.1" fill="none" stroke="#03436b" stroke-width="1.7" stroke-linecap="round"/>
<path d="M937.8,380.5 L955.6,392.7" fill="none" stroke="#fff" stroke-width="2.2" stroke-linecap="round"/>
<path d="M946.0,399.3 L942.2,401.3 L939.8,405.6 L938.4,410.0 L940.6,413.5 L944.9,415.7" fill="none" stroke="#fff" stroke-width="1.9" stroke-linecap="round"/>
<path d="M947.1,398.5 L949.3,402.4 L951.8,406.7 L952.7,410.6 L951.0,413.3 L947.1,413.5 L943.9,411.1" fill="none" stroke="#fff" stroke-width="1.9" stroke-linecap="round"/>
<path d="M926.3,414.9 L930.2,421.0 L934.0,427.0 L937.8,431.4" fill="none" stroke="#fff" stroke-width="1.9" stroke-linecap="round"/>
<path d="M932.9,417.7 L936.7,418.2 L940.6,422.1 L941.7,426.4 L938.9,429.9" fill="none" stroke="#fff" stroke-width="1.9" stroke-linecap="round"/>
<path d="M924.5,425.9 L926.9,431.9 L928.2,436.3" fill="none" stroke="#fff" stroke-width="1.9" stroke-linecap="round"/>
<path d="M924.7,433.5 L931.8,429.7" fill="none" stroke="#fff" stroke-width="1.7" stroke-linecap="round"/>
</g>
<g id="legend">
<rect x="916.8" y="509.5" width="212" height="27" fill="url(#lg)" stroke="#3a3a3a" stroke-width="0.75"/>
<path d="M917,536.5 l-3.2,5.5 h6.4 z M1023.2,536.5 l-3.2,5.5 h6.4 z M1129,536.5 l-3.2,5.5 h6.4 z" fill="#111"/>
<rect x="917" y="566.6" width="211.8" height="9.2" fill="#000"/>
<rect x="970.6" y="567.3" width="52" height="7.8" fill="#fff"/>
<circle cx="1111.4" cy="471.2" r="18.1" fill="#fff" stroke="#111" stroke-width="0.9"/>
<path d="M1111.4,471.3 V453.2" stroke="#111" stroke-width="2.2"/>
</g>
</svg>
<div id="t1" class="abs">% OF TOTAL POPULATION &gt;=65 YEARS OLD</div>
<div id="s1" class="abs">Data Source:&nbsp; American Community Survey (2017)</div>
<div id="t2" class="abs">POPULATION &gt;=65</div>
<div id="s2" class="abs">Data Source: American Community Survey (2016)</div>
<div id="xl" class="abs">% Population</div>
<div id="yl" class="abs">% Positive</div>
<div class="tk" style="left:41.1px;width:27.5px;text-align:right;top:150.4px">70</div>
<div class="tk" style="left:41.1px;width:27.5px;text-align:right;top:242.9px">60</div>
<div class="tk" style="left:41.1px;width:27.5px;text-align:right;top:335.2px">50</div>
<div class="tk" style="left:41.1px;width:27.5px;text-align:right;top:428.1px">40</div>
<div class="tk" style="left:41.1px;width:27.5px;text-align:right;top:520.4px">30</div>
<div class="tk" style="left:155.2px;width:40px;text-align:center;top:550px">5</div>
<div class="tk" style="left:258.7px;width:40px;text-align:center;top:550px">10</div>
<div class="tk" style="left:362.2px;width:40px;text-align:center;top:550px">15</div>
<div class="tk" style="left:465.4px;width:40px;text-align:center;top:550px">20</div>
<div class="lg" style="left:905.3px;top:545.5px">low</div>
<div class="lg" style="left:1003.5px;top:545.5px">medium</div>
<div class="lg" style="left:1115.5px;top:545.5px">high</div>
<div class="lg" style="left:913px;top:578.5px">0</div>
<div class="lg" style="left:966.5px;top:578.5px">3</div>
<div class="lg" style="left:1019px;top:578.5px">6</div>
<div class="lg" style="left:1097.3px;top:578.5px">12 mi</div>
<div class="lg" style="left:1108.3px;top:442px;font-size:8.2px;font-family:'Liberation Sans',sans-serif;-webkit-text-stroke:0.15px #111;">N</div>
</body></html>
